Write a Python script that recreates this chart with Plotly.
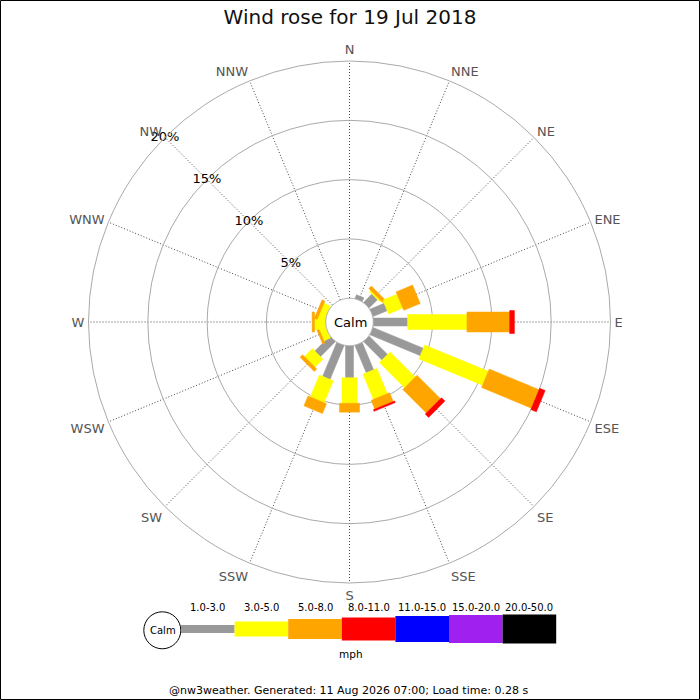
import math
import plotly.graph_objects as go

# ---------------- data ----------------
directions = ["N", "NNE", "NE", "ENE", "E", "ESE", "SE", "SSE",
              "S", "SSW", "SW", "WSW", "W", "WNW", "NW", "NNW"]
direction_angles = [i * 22.5 for i in range(16)]

speed_bins = ["1.0-3.0", "3.0-5.0", "5.0-8.0", "8.0-11.0",
              "11.0-15.0", "15.0-20.0", "20.0-50.0"]
speed_unit = "mph"

# frequency (%) per direction for each speed bin
freq_1_3 = [0, 0.35, 1.0, 1.3, 2.9, 4.6, 2.2, 2.5, 2.7, 3.1, 1.8, 0, 0, 0, 0, 0]
freq_3_5 = [0, 0, 0.15, 1.3, 5.0, 5.8, 3.0, 2.3, 2.15, 2.0, 0.95, 0.6, 0.95, 0.6, 0, 0]
freq_5_8 = [0, 0, 0.3, 1.5, 3.6, 4.55, 2.8, 0.8, 0.75, 0.9, 0.3, 0.2, 0.2, 0.25, 0, 0]
freq_8_11 = [0, 0, 0, 0, 0.4, 0.5, 0.4, 0.15, 0, 0, 0, 0, 0, 0, 0, 0]
freq_11_15 = [0] * 16
freq_15_20 = [0] * 16
freq_20_50 = [0] * 16
series = [freq_1_3, freq_3_5, freq_5_8, freq_8_11, freq_11_15, freq_15_20, freq_20_50]

radial_ticks = [5, 10, 15, 20]
radial_tick_labels = ["5%", "10%", "15%", "20%"]

title_text = "Wind rose for 19 Jul 2018"
footer_text = "@nw3weather. Generated: 11 Aug 2026 07:00; Load time: 0.28 s"

# ---------------- style ----------------
W = H = 700
colors = ["#999999", "#ffff00", "#ffa500", "#ff0000", "#0000ff", "#a020f0", "#000000"]
bar_px = [8, 15, 20, 23, 26, 28, 29]
FONT = "DejaVu Sans"
R_MIN, R_MAX = -2.0, 20.0
CX, CY, RAD = 349.5, 322.0, 261.0           # polar placement in page pixels
px_per_unit = RAD / (R_MAX - R_MIN)

def px(x):
    return x / W

def py(y):
    return 1 - y / H

fig = go.Figure()

# stacked rectangular bars, drawn through the polar axes
for d, theta in enumerate(direction_angles):
    cum = 0.0
    for b, vals in enumerate(series):
        v = vals[d]
        if v <= 0:
            continue
        c0, c1 = cum, cum + v
        cum = c1
        hw = bar_px[b] / 2 / px_per_unit
        rs, ts = [], []
        for dist, off in [(c0 - R_MIN, -hw), (c1 - R_MIN, -hw),
                          (c1 - R_MIN, hw), (c0 - R_MIN, hw), (c0 - R_MIN, -hw)]:
            rs.append(math.hypot(dist, off) + R_MIN)
            ts.append(theta + math.degrees(math.atan2(off, dist)))
        fig.add_trace(go.Scatterpolar(
            r=rs, theta=ts, mode="lines", fill="toself",
            fillcolor=colors[b], line=dict(color=colors[b], width=0.5),
            hoverinfo="skip", showlegend=False))

# calm circle at 0 %
circ_t = [i * 2 for i in range(181)]
fig.add_trace(go.Scatterpolar(
    r=[0] * len(circ_t), theta=circ_t, mode="lines", fill="toself",
    fillcolor="white", line=dict(color="#aaaaaa", width=1),
    hoverinfo="skip", showlegend=False))

# radial tick labels along NW
fig.add_trace(go.Scatterpolar(
    r=radial_ticks, theta=[315] * len(radial_ticks), mode="text",
    text=radial_tick_labels, textfont=dict(family=FONT, size=13, color="#000"),
    hoverinfo="skip", showlegend=False))

fig.update_layout(
    width=W, height=H,
    margin=dict(l=0, r=0, t=0, b=0),
    paper_bgcolor="white",
    font=dict(family=FONT),
    title=dict(text=title_text, x=0.5, xanchor="center", y=py(17), yanchor="middle",
               font=dict(family=FONT, size=20, color="#111")),
    polar=dict(
        domain=dict(x=[px(CX - RAD), px(CX + RAD)], y=[py(CY + RAD), py(CY - RAD)]),
        bgcolor="white",
        radialaxis=dict(range=[R_MIN, R_MAX], tickmode="array", tickvals=radial_ticks,
                        showticklabels=False, ticks="", showline=False,
                        gridcolor="#aaaaaa", gridwidth=1),
        angularaxis=dict(tickmode="array", tickvals=direction_angles, ticktext=directions,
                         direction="clockwise", rotation=90, thetaunit="degrees",
                         showgrid=True, gridcolor="#444444", griddash="1px,2px", gridwidth=1,
                         showline=True, linecolor="#aaaaaa", linewidth=1,
                         ticks="outside", ticklen=1, tickcolor="rgba(0,0,0,0)",
                         tickfont=dict(family=FONT, size=13, color="#555555")),
    ),
)

shapes = []
annotations = []

def note(x, y, text, size, color="#000"):
    annotations.append(dict(x=px(x), y=py(y), xref="paper", yref="paper", text=text,
                            xanchor="center", yanchor="middle", showarrow=False,
                            font=dict(family=FONT, size=size, color=color)))

# centre label
note(CX + 1, CY, "Calm", 13)

# legend
LEG_X0, LEG_SEG, LEG_YC = 181.0, 53.6, 629.0
shapes.append(dict(type="circle", xref="paper", yref="paper",
                   x0=px(162.3 - 18.5), x1=px(162.3 + 18.5),
                   y0=py(630.3 + 18.5), y1=py(630.3 - 18.5),
                   line=dict(color="#000", width=1), fillcolor="white"))
note(162.5, 630.5, "Calm", 10)
for b, lab in enumerate(speed_bins):
    x0 = LEG_X0 + b * LEG_SEG
    x1 = x0 + LEG_SEG
    hh = bar_px[b] / 2
    shapes.append(dict(type="rect", xref="paper", yref="paper",
                       x0=px(x0), x1=px(x1), y0=py(LEG_YC + hh), y1=py(LEG_YC - hh),
                       line=dict(width=0), fillcolor=colors[b]))
    note((x0 + x1) / 2, 607, lab, 10)
note(351, 653.5, speed_unit, 10.5)

# footer
note(348, 690, footer_text, 11)

# border
shapes.append(dict(type="rect", xref="paper", yref="paper",
                   x0=px(0.5), x1=px(699.5), y0=py(699.5), y1=py(0.5),
                   line=dict(color="#000", width=1), fillcolor="rgba(0,0,0,0)"))

fig.update_layout(shapes=shapes, annotations=annotations)
fig.write_html("out.html", config={"displayModeBar": False},
               post_script="document.body.style.margin='0';document.body.style.padding='0';")
